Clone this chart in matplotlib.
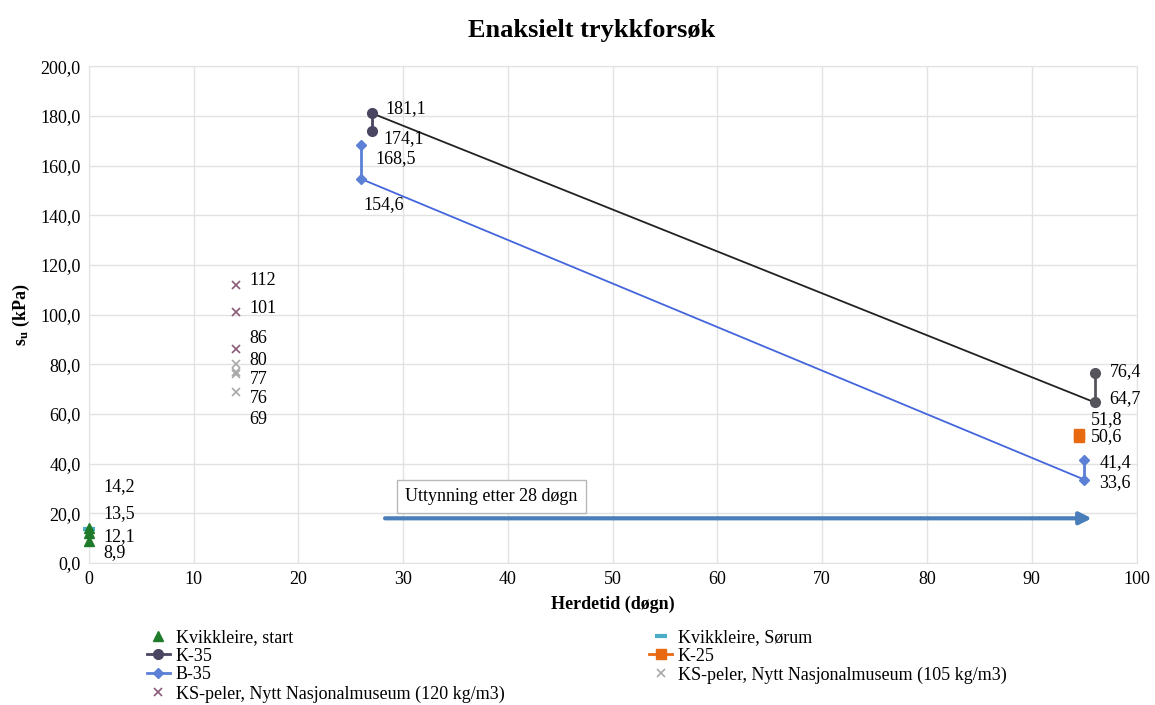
import matplotlib.pyplot as plt
from matplotlib.ticker import MultipleLocator, FuncFormatter

plt.rcParams['font.family'] = ['Liberation Serif', 'DejaVu Serif']
plt.rcParams['mathtext.fontset'] = 'custom'
plt.rcParams['mathtext.rm'] = 'Liberation Serif'
plt.rcParams['mathtext.bf'] = 'Liberation Serif:bold'

# data (herdetid in døgn, su in kPa)
start_x = [0, 0, 0]
start_y = [14.2, 12.1, 8.9]
sorum_x = [0]
sorum_y = [13.5]
k35_x = [27, 27, 96, 96]
k35_y = [174.1, 181.1, 64.7, 76.4]
b35_x = [26, 26, 95, 95]
b35_y = [168.5, 154.6, 33.6, 41.4]
k25_x = [94.5, 94.5]
k25_y = [51.8, 50.6]
ks120_x = [14, 14, 14]
ks120_y = [112, 101, 86]
ks105_x = [14, 14, 14, 14]
ks105_y = [80, 77, 76, 69]

# label text offsets (pixels)
start_off = [(14, 41), (14, 16), (14, -4), (14, -12)]
start_lbl = [14.2, 13.5, 12.1, 8.9]
k35_off = [(12, -8), (14, 5), (15, 4), (15, 2)]
b35_off = [(14, -14), (2, -26), (15, -3), (15, -2)]
k25_off = [(12, 15), (12, 1)]
ks_lbl = [112, 101, 86, 80, 77, 76, 69]
ks_dy = [4, 4, 11, 4, -8, -24, -28]

FS = 13

fig = plt.figure(figsize=(11.55, 7.05), dpi=100)
ax = fig.add_axes([0.077, 0.2014, 0.907, 0.7046])

c_k35 = '#4a4560'
c_b35 = '#5b80d6'
ax.plot(start_x, start_y, '^', color='#1f7a2a', ms=7, label='Kvikkleire, start', zorder=4, clip_on=False)
ax.plot(sorum_x, sorum_y, '_', color='#4bacc6', ms=9, mew=3, label='Kvikkleire, Sørum', zorder=3, clip_on=False)

# K-35: vertical pairs + connecting line
ax.plot(k35_x[:2], k35_y[:2], '-o', color=c_k35, ms=7, lw=2, label='K-35', zorder=3)
ax.plot(k35_x[2:], k35_y[2:], '-o', color='#55545c', ms=7, lw=2, zorder=3)
ax.plot([k35_x[1], k35_x[2]], [k35_y[1], k35_y[2]], '-', color='#222222', lw=1.3, zorder=2)

# B-35
ax.plot(b35_x[:2], b35_y[:2], '-D', color=c_b35, ms=5, lw=2, label='B-35', zorder=3)
ax.plot(b35_x[2:], b35_y[2:], '-D', color=c_b35, ms=5, lw=2, zorder=3)
ax.plot([b35_x[1], b35_x[2]], [b35_y[1], b35_y[2]], '-', color='#4466dd', lw=1.3, zorder=2)

ax.plot(k25_x, k25_y, '-s', color='#e8690f', ms=7, lw=2, label='K-25', zorder=3)
ax.plot(ks120_x, ks120_y, 'x', color='#8a5a78', ms=6, mew=1.2,
        label='KS-peler, Nytt Nasjonalmuseum (120 kg/m3)', zorder=3)
ax.plot(ks105_x, ks105_y, 'x', color='#a8a8a8', ms=6, mew=1.2,
        label='KS-peler, Nytt Nasjonalmuseum (105 kg/m3)', zorder=3)

def fmt(v):
    return ('%.1f' % v).replace('.', ',')

for v, off in zip(start_lbl, start_off):
    ax.annotate(fmt(v), (0, v), xytext=off, textcoords='offset pixels',
                va='center', fontsize=FS)
for x, y, off in zip(k35_x, k35_y, k35_off):
    ax.annotate(fmt(y), (x, y), xytext=off, textcoords='offset pixels', va='center', fontsize=FS)
for x, y, off in zip(b35_x, b35_y, b35_off):
    ax.annotate(fmt(y), (x, y), xytext=off, textcoords='offset pixels', va='center', fontsize=FS)
for x, y, off in zip(k25_x, k25_y, k25_off):
    ax.annotate(fmt(y), (x, y), xytext=off, textcoords='offset pixels', va='center', fontsize=FS)
for v, dy in zip(ks_lbl, ks_dy):
    ax.annotate(str(v), (14, v), xytext=(14, dy), textcoords='offset pixels', va='center', fontsize=FS)

# arrow and text box
ax.annotate('', xy=(96, 18), xytext=(28, 18),
            arrowprops=dict(arrowstyle='-|>', color='#4a7ebb', lw=3, mutation_scale=18))
ax.text(30.2, 26.8, 'Uttynning etter 28 døgn', fontsize=FS, va='center',
        bbox=dict(boxstyle='square,pad=0.45', fc='white', ec='#b8b8b8', lw=1))

ax.set_xlim(0, 100)
ax.set_ylim(0, 200)
ax.xaxis.set_major_locator(MultipleLocator(10))
ax.yaxis.set_major_locator(MultipleLocator(20))
ax.yaxis.set_major_formatter(FuncFormatter(lambda v, p: fmt(v)))
ax.grid(True, color='#e2e2e2', lw=1)
ax.set_axisbelow(True)
for s in ax.spines.values():
    s.set_color('#e2e2e2')
ax.tick_params(length=0, labelsize=FS, pad=6)

fig.text(0.512, 0.957, 'Enaksielt trykkforsøk', fontsize=19, fontweight='bold',
         ha='center', va='center')
ax.set_xlabel('Herdetid (døgn)', fontsize=FS, fontweight='bold', labelpad=5)
ax.set_ylabel(r'$\mathbf{s_u}$ (kPa)', fontsize=FS, fontweight='bold', labelpad=6)

h, l = ax.get_legend_handles_labels()
order = ['Kvikkleire, start', 'K-35', 'B-35', 'KS-peler, Nytt Nasjonalmuseum (120 kg/m3)',
         'Kvikkleire, Sørum', 'K-25', 'KS-peler, Nytt Nasjonalmuseum (105 kg/m3)']
hh = [h[l.index(o)] for o in order]
fig.legend(hh, order, ncol=2, loc='upper left', bbox_to_anchor=(0.127, 0.108),
           frameon=False, fontsize=FS, handlelength=1.3, handletextpad=0.3,
           labelspacing=0.1, columnspacing=8.0, borderaxespad=0, borderpad=0)

fig.savefig('out.png', dpi=100)
